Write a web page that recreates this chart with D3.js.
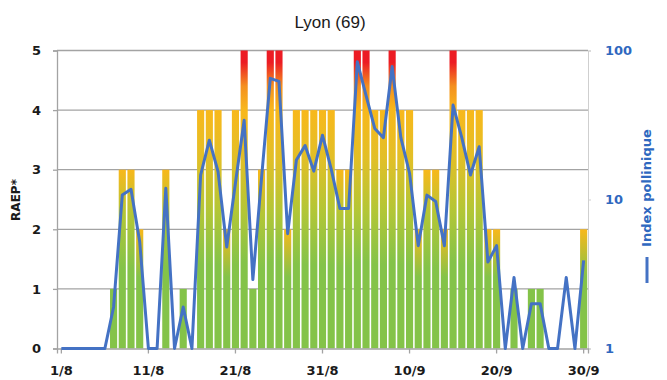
<!DOCTYPE html>
<html>
<head>
<meta charset="utf-8">
<script src="https://cdn.jsdelivr.net/npm/d3@7"></script>
<style>
  body { margin: 0; background: #fff; }
  svg { display: block; }
  .axis text { font-family: "DejaVu Sans", Verdana, sans-serif; font-weight: bold; font-size: 13px; }
</style>
</head>
<body>
<div id="chart"></div>
<script>
// RAEP* (risque allergique) par jour, 1/8 -> 30/9
const raep = [0,0,0,0,0,0,1,3,3,2, 0,0,3,0,1,0,4,4,4,2, 4,5,1,3,5,5,2,4,4,4,
              4,4,3,3,5,5,4,4,5,4, 4,2,3,3,2,5,4,4,4,2, 2,0,1,0,1,1,0,0,0,0, 2];
// index pollinique (echelle log)
const pollen = [1,1,1,1,1,1,1.9,10.7,11.7,5.2, 1,1,11.9,1,1.9,1,14.6,25,15.4,4.8,
                12.9,34,2.9,14,65,62,5.9,18.4,23,15.5, 27,16,8.7,8.7,84,50,30,26,78,26,
                15,4.9,10.7,9.7,4.9,43,26,14.6,22.6,3.8, 4.9,1,3,1,2,2,1,1,3,1, 3.9];
const tickLabels = ["1/8", "11/8", "21/8", "31/8", "10/9", "20/9", "30/9"];
const raepTicks = [0, 1, 2, 3, 4, 5];
const pollenTicks = [1, 10, 100];

const fmt = d3.timeFormat("%-d/%-m");
const days = d3.timeDay.range(new Date(2019, 7, 1), new Date(2019, 8, 31)).map(fmt);

const width = 667, height = 380;
const margin = {top: 50.5, right: 79, bottom: 31.5, left: 57};

const svg = d3.select("#chart").append("svg")
    .attr("width", width)
    .attr("height", height);

const x = d3.scaleBand()
    .domain(days)
    .range([margin.left, width - margin.right])
    .paddingInner(0.18)
    .paddingOuter(0.09);
const yL = d3.scaleLinear().domain([0, 5]).range([height - margin.bottom, margin.top]);
const yR = d3.scaleLog().domain([1, 100]).range([height - margin.bottom, margin.top]);
const cx = d => x(d) + x.bandwidth() / 2;

// gradients, one per RAEP level
const green = "#84c349", ygreen = "#b3c636", yellow = "#e2bf27", gold = "#f8b81b",
      orange = "#f4901f", red = "#ec1c24";
const grads = {
  1: [[0, green], [1, green]],
  2: [[0, green], [0.6, green], [1, gold]],
  3: [[0, green], [0.45, green], [0.75, ygreen], [1, gold]],
  4: [[0, green], [0.35, green], [0.58, ygreen], [0.8, yellow], [1, gold]],
  5: [[0, green], [0.29, green], [0.46, ygreen], [0.64, yellow], [0.8, gold], [0.88, orange], [0.96, red], [1, red]]
};
const defs = svg.append("defs");
Object.keys(grads).forEach(k => {
  const g = defs.append("linearGradient")
      .attr("id", "g" + k)
      .attr("x1", 0).attr("y1", 1).attr("x2", 0).attr("y2", 0);
  grads[k].forEach(s => g.append("stop").attr("offset", s[0]).attr("stop-color", s[1]));
});

// gridlines
svg.append("g")
  .selectAll("line")
  .data(raepTicks.slice(1))
  .join("line")
    .attr("x1", margin.left).attr("x2", width - margin.right)
    .attr("y1", d => yL(d)).attr("y2", d => yL(d))
    .attr("stroke", "#a3a3a3")
    .attr("stroke-width", 1.3);

// bars
svg.append("g")
  .selectAll("rect")
  .data(days.map((d, i) => ({day: d, v: raep[i]})).filter(d => d.v > 0))
  .join("rect")
    .attr("x", d => x(d.day))
    .attr("width", x.bandwidth())
    .attr("y", d => yL(d.v))
    .attr("height", d => yL(0) - yL(d.v))
    .attr("fill", d => "url(#g" + d.v + ")");

// left axis
const axL = svg.append("g")
    .attr("class", "axis")
    .attr("transform", "translate(" + margin.left + ",0)")
    .call(d3.axisLeft(yL).tickValues(raepTicks).tickFormat(d3.format("d")).tickSize(4).tickPadding(12));
axL.selectAll("path, line").attr("stroke", "#a3a3a3").attr("stroke-width", 1.3);
axL.selectAll("text").attr("fill", "#1a1a1a");

// right axis
const axR = svg.append("g")
    .attr("class", "axis")
    .attr("transform", "translate(" + (width - margin.right) + ",0)")
    .call(d3.axisRight(yR).tickValues(pollenTicks).tickFormat(d3.format("d")).tickSize(3).tickPadding(14));
axR.selectAll("path, line").attr("stroke", "#cfcfcf");
axR.selectAll("text").attr("fill", "#2f68bf");

// bottom axis
const axB = svg.append("g")
    .attr("class", "axis")
    .attr("transform", "translate(0," + (height - margin.bottom) + ")")
    .call(d3.axisBottom(x)
      .tickValues(days.filter((d, i) => i % 10 === 0))
      .tickFormat((d, i) => tickLabels[i])
      .tickSize(5).tickPadding(12));
axB.selectAll("path, line").attr("stroke", "#a3a3a3").attr("stroke-width", 1.3);
axB.selectAll("text").attr("fill", "#1a1a1a");

// pollen index line
svg.append("path")
    .datum(pollen)
    .attr("fill", "none")
    .attr("stroke", "#4472c4")
    .attr("stroke-width", 3)
    .attr("stroke-linejoin", "round")
    .attr("d", d3.line().x((d, i) => cx(days[i])).y(d => yR(d)));

// title and axis titles
svg.append("text")
    .attr("x", 330).attr("y", 28)
    .attr("text-anchor", "middle")
    .style("font-family", "'Liberation Sans', Arial, sans-serif")
    .style("font-size", "17px")
    .attr("fill", "#1a1a1a")
    .text("Lyon (69)");

svg.append("text")
    .attr("transform", "translate(20,200) rotate(-90)")
    .attr("text-anchor", "middle")
    .style("font-family", "'DejaVu Sans', Verdana, sans-serif")
    .style("font-weight", "bold")
    .style("font-size", "12px")
    .attr("fill", "#1a1a1a")
    .text("RAEP*");

svg.append("text")
    .attr("transform", "translate(651,188) rotate(-90)")
    .attr("text-anchor", "middle")
    .style("font-family", "'DejaVu Sans', Verdana, sans-serif")
    .style("font-weight", "bold")
    .style("font-size", "13px")
    .attr("fill", "#2f68bf")
    .text("Index pollinique");

svg.append("line")
    .attr("x1", 647).attr("x2", 647)
    .attr("y1", 257).attr("y2", 283)
    .attr("stroke", "#4472c4")
    .attr("stroke-width", 3);
</script>
</body>
</html>
